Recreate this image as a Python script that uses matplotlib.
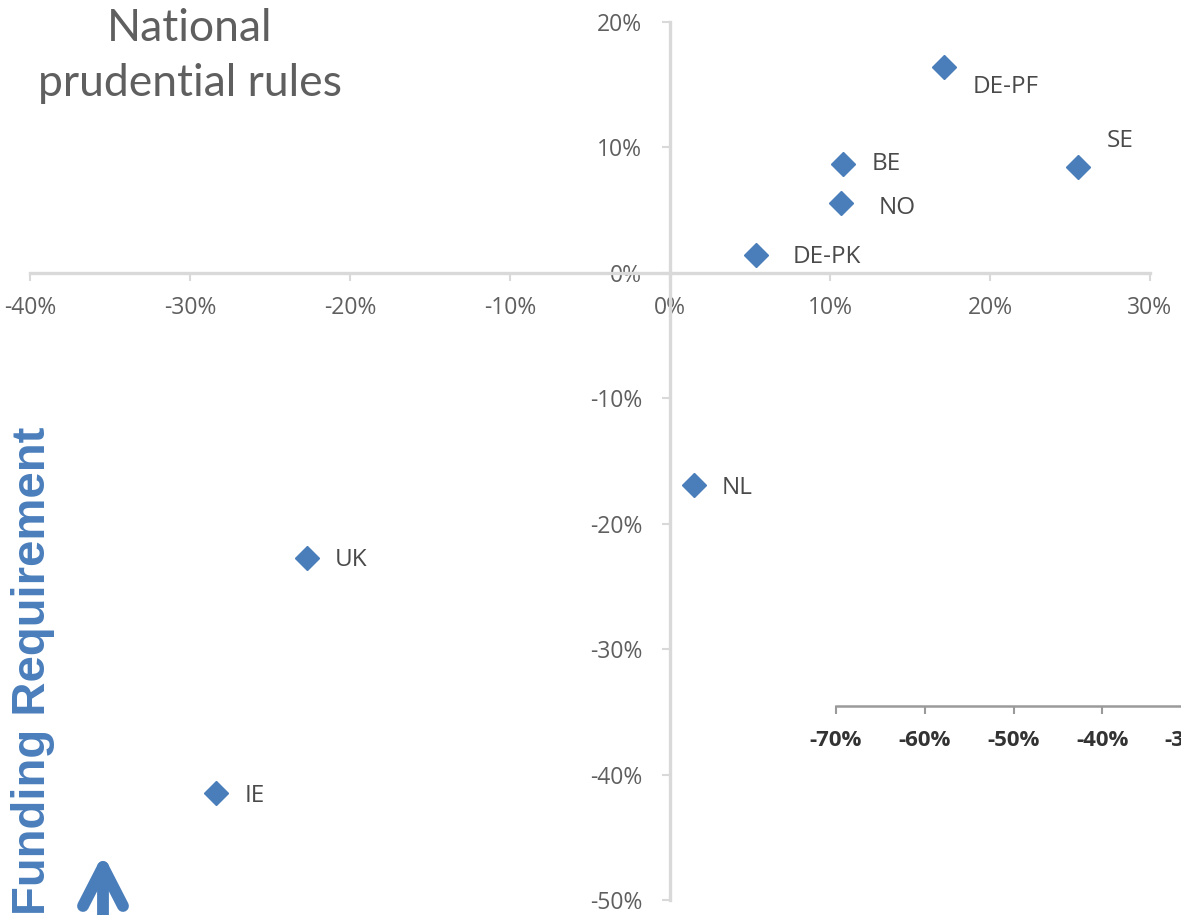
import matplotlib
matplotlib.use("Agg")
import matplotlib.pyplot as plt
from matplotlib.lines import Line2D
from matplotlib.ticker import FixedLocator, FuncFormatter

# Scheme data (x: change in one measure, y: change in funding requirement, %)
countries = ["DE-PF", "SE", "BE", "NO", "DE-PK", "NL", "UK", "IE"]
x_vals = [17.1, 25.5, 10.8, 10.7, 5.4, 1.5, -22.7, -28.4]
y_vals = [16.4, 8.4, 8.7, 5.6, 1.4, -16.9, -22.7, -41.5]

x_ticks = [-40, -30, -20, -10, 0, 10, 20, 30]
y_ticks = [-50, -40, -30, -20, -10, 0, 10, 20]
side_ticks = [-70, -60, -50, -40, -30]

# label placement relative to each marker (points)
label_offsets = {
    "DE-PF": (21, -14), "SE": (21, 19), "BE": (21, 0), "NO": (27, -4),
    "DE-PK": (26, -1), "NL": (20, -2), "UK": (20, -2), "IE": (21, -2),
}

BLUE = "#4a7ebb"
AXIS_GREY = "#d9d9d9"
TEXT_GREY = "#5f5f5f"

W, H = 1181, 915
fig = plt.figure(figsize=(W / 100, H / 100), dpi=100)


def fx(px):
    return px / W


def fy(py):
    return 1 - py / H


# main quadrant chart
ax = fig.add_axes([fx(30), fy(900), fx(1150) - fx(30), fy(22) - fy(900)])
ax.set_xlim(-40, 30)
ax.set_ylim(-50, 20)
ax.set_facecolor("none")
for s in ("top", "right"):
    ax.spines[s].set_visible(False)
ax.spines["left"].set_position(("data", 0))
ax.spines["bottom"].set_position(("data", 0))
for s in ("left", "bottom"):
    ax.spines[s].set_color(AXIS_GREY)
    ax.spines[s].set_linewidth(2.4)

pct = FuncFormatter(lambda v, _: f"{v:.0f}%")
ax.xaxis.set_major_locator(FixedLocator(x_ticks))
ax.yaxis.set_major_locator(FixedLocator(y_ticks))
ax.xaxis.set_major_formatter(pct)
ax.yaxis.set_major_formatter(pct)
ax.tick_params(axis="both", colors=AXIS_GREY, length=6, width=1.5,
               labelcolor=TEXT_GREY, labelsize=16.5)
ax.tick_params(axis="x", pad=11)
ax.tick_params(axis="y", pad=14)
for lab in ax.get_xticklabels() + ax.get_yticklabels():
    lab.set_fontfamily("Open Sans")

ax.plot(x_vals, y_vals, linestyle="none", marker="D", markersize=12,
        color=BLUE, markeredgecolor=BLUE, clip_on=False, zorder=3)
for name, xv, yv in zip(countries, x_vals, y_vals):
    dx, dy = label_offsets[name]
    ax.annotate(name, (xv, yv), xytext=(dx, dy), textcoords="offset points",
                ha="left", va="center", fontsize=17.5, color="#4a4a4a",
                family="Open Sans")

# partial second axis in the lower right
ax2 = fig.add_axes([fx(836), fy(706), fx(1191) - fx(836), 0.01])
ax2.set_xlim(-70, -30)
ax2.set_facecolor("none")
for s in ("top", "right", "left"):
    ax2.spines[s].set_visible(False)
ax2.spines["bottom"].set_color("#9a9a9a")
ax2.spines["bottom"].set_linewidth(1.8)
ax2.set_yticks([])
ax2.xaxis.set_major_locator(FixedLocator(side_ticks))
ax2.xaxis.set_major_formatter(pct)
ax2.tick_params(axis="x", colors="#9a9a9a", length=6, width=1.5,
                labelcolor="#333333", labelsize=16, pad=11)
for lab in ax2.get_xticklabels():
    lab.set_fontfamily("Open Sans")
    lab.set_fontweight("bold")

# headings
fig.text(fx(190), fy(56), "National\nprudential rules", ha="center", va="center",
         fontsize=32, color=TEXT_GREY, family="Lato", linespacing=1.4)
fig.text(fx(33), fy(427), "Funding Requirement", ha="center", va="top",
         rotation=90, fontsize=34, fontweight="bold", color=BLUE,
         family="Liberation Sans")

# upward arrow
arrow_kw = dict(color=BLUE, linewidth=8.5, solid_capstyle="round",
                transform=fig.transFigure)
fig.add_artist(Line2D([fx(103), fx(103)], [fy(930), fy(868)], **arrow_kw))
fig.add_artist(Line2D([fx(83), fx(103)], [fy(906), fy(867)], **arrow_kw))
fig.add_artist(Line2D([fx(123), fx(103)], [fy(906), fy(867)], **arrow_kw))

fig.savefig("out.png", dpi=100)
